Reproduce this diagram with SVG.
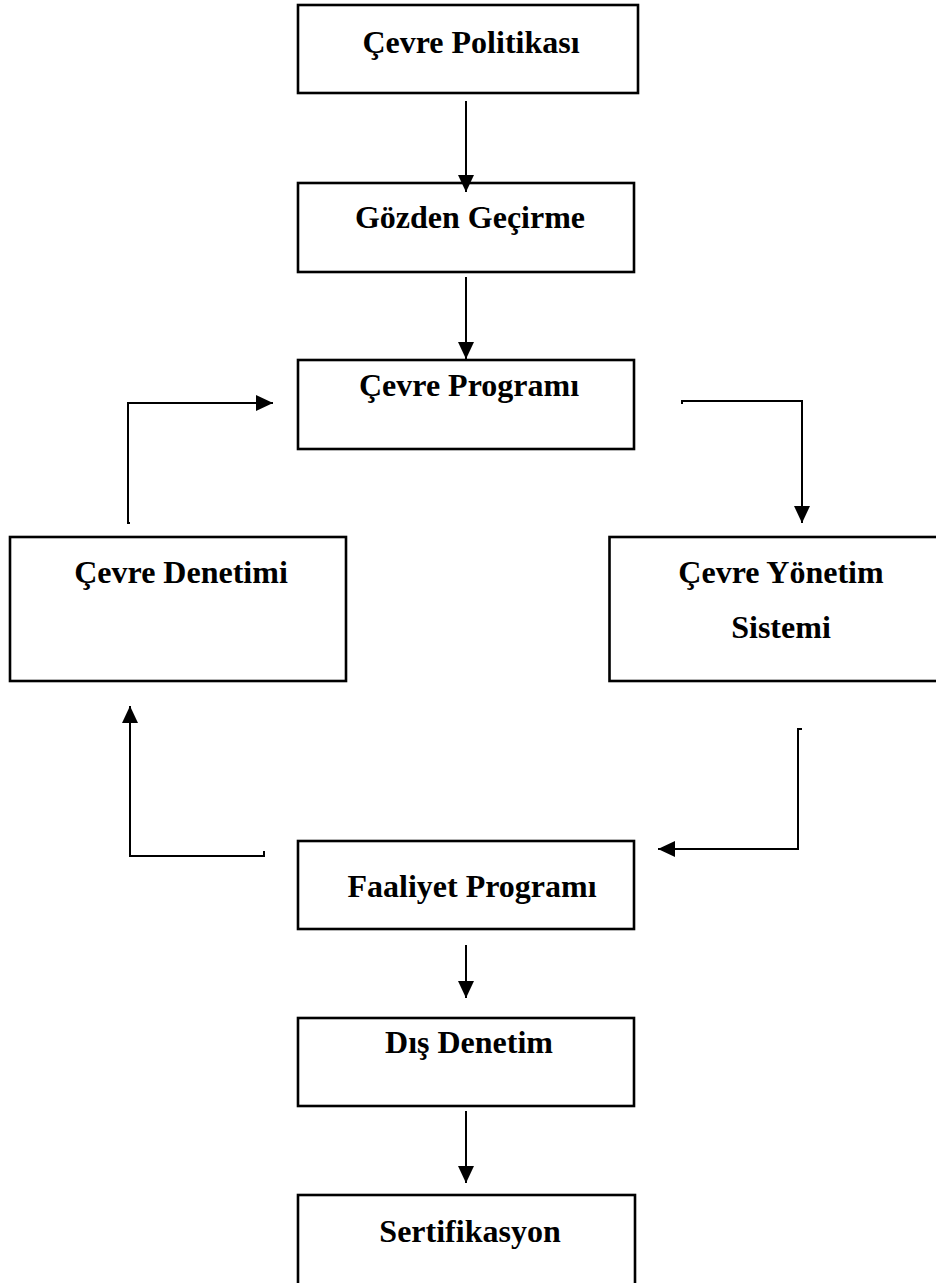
<svg xmlns="http://www.w3.org/2000/svg" width="936" height="1283" viewBox="0 0 936 1283">
  <style>
    .box { fill: #ffffff; stroke: #000000; stroke-width: 2.6; }
    .lbl { font-family: "Liberation Serif", "Times New Roman", serif; font-weight: bold; font-size: 32px; fill: #000000; text-anchor: middle; }
    .conn { fill: none; stroke: #000000; stroke-width: 2; }
  </style>
  <defs>
    <marker id="arrow" markerUnits="userSpaceOnUse" markerWidth="17" markerHeight="16" refX="17" refY="8" orient="auto">
      <path d="M0,0 L17,8 L0,16 z" fill="#000000"/>
    </marker>
  </defs>
  <rect width="936" height="1283" fill="#ffffff"/>

  <g id="node-cevre-politikasi">
    <rect class="box" x="298" y="5" width="340" height="88"/>
    <text class="lbl" x="471" y="53">Çevre Politikası</text>
  </g>
  <g id="node-gozden-gecirme">
    <rect class="box" x="298" y="183" width="336" height="89"/>
    <text class="lbl" x="470" y="228">Gözden Geçirme</text>
  </g>
  <g id="node-cevre-programi">
    <rect class="box" x="298" y="360" width="336" height="89"/>
    <text class="lbl" x="469" y="396">Çevre Programı</text>
  </g>
  <g id="node-cevre-denetimi">
    <rect class="box" x="10" y="537" width="336" height="144"/>
    <text class="lbl" x="181" y="583">Çevre Denetimi</text>
  </g>
  <g id="node-cevre-yonetim-sistemi">
    <rect class="box" x="609.5" y="537" width="344" height="144"/>
    <text class="lbl" x="781" y="583">Çevre Yönetim</text>
    <text class="lbl" x="781" y="638">Sistemi</text>
  </g>
  <g id="node-faaliyet-programi">
    <rect class="box" x="298" y="841" width="336" height="88"/>
    <text class="lbl" x="472" y="897">Faaliyet Programı</text>
  </g>
  <g id="node-dis-denetim">
    <rect class="box" x="298" y="1018" width="336" height="88"/>
    <text class="lbl" x="469" y="1053">Dış Denetim</text>
  </g>
  <g id="node-sertifikasyon">
    <rect class="box" x="298" y="1195" width="337" height="92"/>
    <text class="lbl" x="470" y="1242">Sertifikasyon</text>
  </g>

  <g id="connectors">
    <path class="conn" d="M466,101 L466,192" marker-end="url(#arrow)"/>
    <path class="conn" d="M466,277 L466,359" marker-end="url(#arrow)"/>
    <path class="conn" d="M130,523 L128,523 L128,403 L273,403" marker-end="url(#arrow)"/>
    <path class="conn" d="M682,404 L682,401 L802,401 L802,523" marker-end="url(#arrow)"/>
    <path class="conn" d="M802,729 L798,729 L798,849 L658,849" marker-end="url(#arrow)"/>
    <path class="conn" d="M264,851 L264,856 L130,856 L130,706" marker-end="url(#arrow)"/>
    <path class="conn" d="M466,945 L466,998" marker-end="url(#arrow)"/>
    <path class="conn" d="M466,1111 L466,1183" marker-end="url(#arrow)"/>
  </g>
</svg>
